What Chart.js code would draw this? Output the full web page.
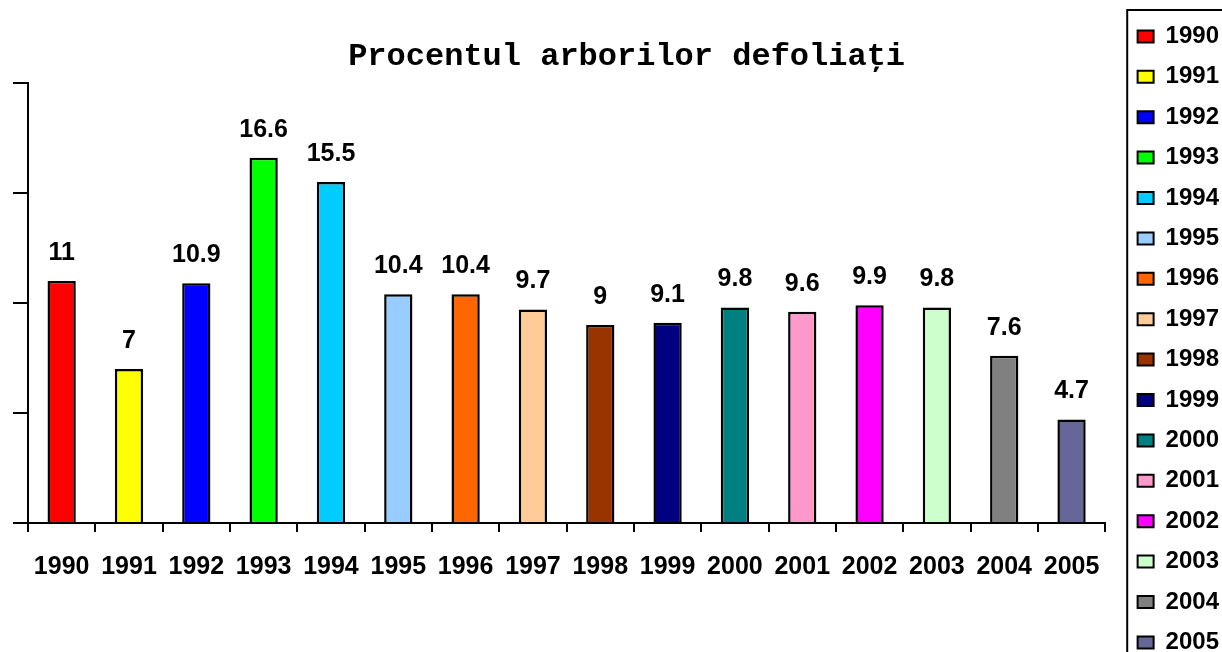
<!DOCTYPE html>
<html>
<head>
<meta charset="utf-8">
<script src="https://cdn.jsdelivr.net/npm/chart.js@4"></script>
<style>
  html, body { margin: 0; padding: 0; background: #fff; overflow: hidden; }
  #wrap { width: 1222px; height: 652px; overflow: hidden; }
</style>
</head>
<body>
<div id="wrap"><canvas id="chart" width="1222" height="720"></canvas></div>
<script>
// data
const years = ["1990", "1991", "1992", "1993", "1994", "1995", "1996", "1997",
               "1998", "1999", "2000", "2001", "2002", "2003", "2004", "2005"];
const defoliated = [11, 7, 10.9, 16.6, 15.5, 10.4, 10.4, 9.7, 9, 9.1, 9.8, 9.6, 9.9, 9.8, 7.6, 4.7];
const barColors = ["#FF0000", "#FFFF00", "#0000FF", "#00FF00", "#00CCFF", "#99CCFF", "#FF6600", "#FFCC99",
                   "#993300", "#000080", "#008080", "#FF99CC", "#FF00FF", "#CCFFCC", "#808080", "#666699"];
const yTicks = [0, 5, 10, 15, 20];

const valueLabels = {
    id: "valueLabels",
    afterDatasetsDraw(chart) {
        const ctx = chart.ctx;
        const meta = chart.getDatasetMeta(0);
        ctx.save();
        ctx.font = "bold 25px 'Liberation Sans', Arial, sans-serif";
        ctx.fillStyle = "#000";
        ctx.textAlign = "center";
        ctx.textBaseline = "middle";
        meta.data.forEach((bar, i) => {
            ctx.fillText(String(defoliated[i]), bar.x, bar.y - 28);
        });
        ctx.restore();
    },
};

// nudge title / legend, and draw the frame round the legend
const tweaks = {
    id: "tweaks",
    afterLayout(chart) {
        chart.titleBlock.left += 120;
        chart.legend.left += 16;
        chart.legend.right += 16;
    },
    afterDraw(chart) {
        const lg = chart.legend;
        const ctx = chart.ctx;
        ctx.save();
        ctx.strokeStyle = "#000";
        ctx.lineWidth = 2;
        ctx.strokeRect(lg.left + 6, lg.top + 2, 400, 1000);
        ctx.restore();
    },
};

new Chart(document.getElementById("chart"), {
    type: "bar",
    data: {
        labels: years,
        datasets: [
            {
                label: "Procent",
                data: defoliated,
                backgroundColor: barColors,
                borderColor: "#000",
                borderWidth: 2.5,
                barPercentage: 0.42,
                categoryPercentage: 1,
            },
        ],
    },
    options: {
        responsive: false,
        animation: false,
        devicePixelRatio: 1,
        layout: { padding: { top: 8, right: 9, left: 0, bottom: 0 } },
        plugins: {
            title: {
                display: true,
                fullSize: false,
                text: "Procentul arborilor defoliaţi",
                color: "#000",
                font: { family: "'Liberation Mono', 'Courier New', monospace", size: 32, weight: "bold", lineHeight: 1.2 },
                padding: { top: 30, bottom: 6.6 },
            },
            legend: {
                display: true,
                position: "right",
                align: "start",
                labels: {
                    color: "#000",
                    boxWidth: 16,
                    boxHeight: 12,
                    padding: 16.4,
                    font: { family: "'Liberation Sans', Arial, sans-serif", size: 24, weight: "bold" },
                    generateLabels: () =>
                        years.map((y, i) => ({
                            text: y,
                            fillStyle: barColors[i],
                            strokeStyle: "#000",
                            lineWidth: 2,
                            hidden: false,
                            index: i,
                            fontColor: "#000",
                        })),
                },
            },
            tooltip: { enabled: false },
        },
        scales: {
            x: {
                grid: { offset: true, drawOnChartArea: false, color: "#000", lineWidth: 2, tickLength: 9 },
                border: { color: "#000", width: 2 },
                ticks: {
                    color: "#000",
                    padding: 20,
                    maxRotation: 0,
                    autoSkip: false,
                    font: { family: "'Liberation Sans', Arial, sans-serif", size: 25, weight: "bold" },
                },
                afterFit(scale) {
                    scale.height = 720 - 523;
                },
            },
            y: {
                min: yTicks[0],
                max: yTicks[yTicks.length - 1],
                afterBuildTicks(scale) {
                    scale.ticks = yTicks.map((v) => ({ value: v }));
                },
                grid: { drawOnChartArea: false, color: "#000", lineWidth: 2, tickLength: 15 },
                border: { color: "#000", width: 2 },
                ticks: { display: false },
                afterFit(scale) {
                    scale.width = 28;
                },
            },
        },
    },
    plugins: [valueLabels, tweaks],
});
</script>
</body>
</html>
